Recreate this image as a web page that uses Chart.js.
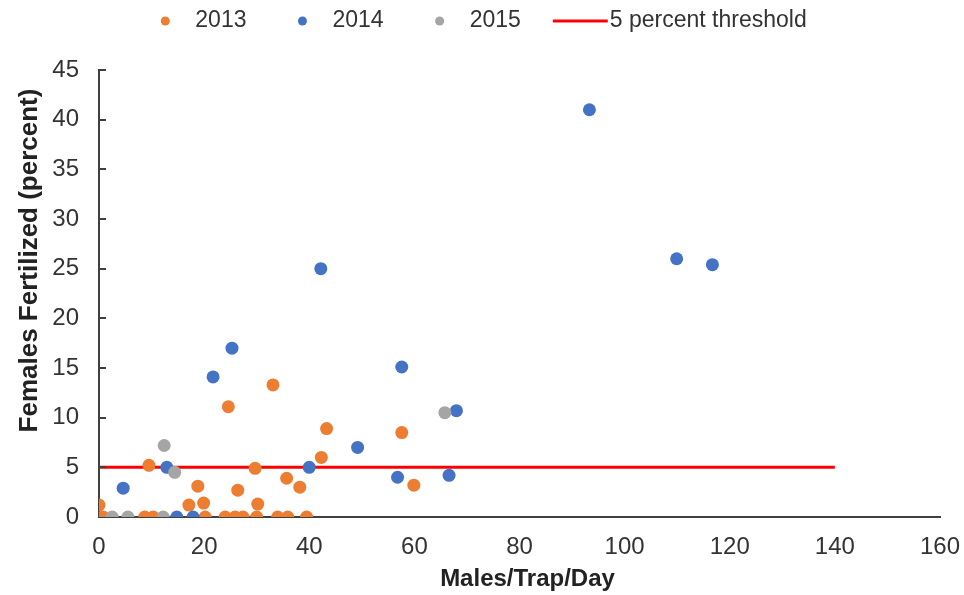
<!DOCTYPE html>
<html>
<head>
<meta charset="utf-8">
<script src="https://cdn.jsdelivr.net/npm/chart.js@4"></script>
<style>
  html, body { margin: 0; padding: 0; background: #ffffff; }
  #wrap { width: 964px; height: 595px; position: relative; }
</style>
</head>
<body>
<div id="wrap"><canvas id="c" width="964" height="595"></canvas></div>
<script>
// ---- data ----
const seriesNames = ['2013', '2014', '2015'];
const x2013 = [33.1, 24.6, 43.3, 57.6, 42.3, 9.5, 29.7, 35.7, 38.2, 59.9, 18.8, 26.4, 0, 17.1, 19.9, 30.2,
               0.8, 8.7, 10.3, 20.2, 24.0, 25.9, 27.4, 30.0, 34.0, 35.9, 39.5];
const y2013 = [13.3, 11.1, 8.9, 8.5, 6.0, 5.2, 4.9, 3.9, 3.0, 3.2, 3.1, 2.7, 1.2, 1.2, 1.4, 1.3,
               0, 0, 0, 0, 0, 0, 0, 0, 0, 0, 0];
const x2014 = [93.3, 109.9, 116.7, 42.2, 25.3, 21.7, 57.6, 68.0, 49.2, 40.0, 56.8, 66.6, 4.6, 12.9, 14.8, 17.9];
const y2014 = [41.0, 26.0, 25.4, 25.0, 17.0, 14.1, 15.1, 10.7, 7.0, 5.0, 4.0, 4.2, 2.9, 5.0, 0, 0];
const x2015 = [65.8, 12.4, 14.4, 2.5, 5.5, 12.2];
const y2015 = [10.5, 7.2, 4.5, 0, 0, 0];
const thresholdLabel = '5 percent threshold';
const thresholdX = [0, 140];
const thresholdY = [5, 5];
const xTicks = [0, 20, 40, 60, 80, 100, 120, 140, 160];
const yTicks = [0, 5, 10, 15, 20, 25, 30, 35, 40, 45];
const xTitle = 'Males/Trap/Day';
const yTitle = 'Females Fertilized (percent)';

// ---- styles ----
const colors = ['#ED7D31', '#4472C4', '#A5A5A5'];
const lineColor = '#FF0000';
const FONT = "'Liberation Sans', Arial, sans-serif";
const textColor = '#333333';
const titleColor = '#222222';
const axisColor = '#404040';

function pts(xs, ys) { return xs.map((x, i) => ({ x: x, y: ys[i] })); }

const seriesX = [x2013, x2014, x2015];
const seriesY = [y2013, y2014, y2015];

const datasets = seriesNames.map((name, i) => ({
  type: 'scatter',
  label: name,
  data: pts(seriesX[i], seriesY[i]),
  backgroundColor: colors[i],
  borderColor: colors[i],
  pointRadius: 6.5,
  pointHoverRadius: 6.5,
  borderWidth: 0,
  order: 3 - i
}));
datasets.push({
  type: 'line',
  label: thresholdLabel,
  data: pts(thresholdX, thresholdY),
  borderColor: lineColor,
  backgroundColor: lineColor,
  borderWidth: 3,
  pointRadius: 0,
  fill: false,
  order: 10
});

// custom legend drawn at top (matching the original layout)
const legendPlugin = {
  id: 'customLegend',
  afterDraw(chart) {
    const ctx = chart.ctx;
    ctx.save();
    ctx.font = '23px ' + FONT;
    ctx.textBaseline = 'middle';
    ctx.textAlign = 'left';
    const y = 21;
    const dotToText = 30, textToNext = 56, textToLine = 32, lineLen = 55, lineToText = 2;
    const items = chart.data.datasets.map(d => ({ label: d.label, type: d.type, color: d.borderColor }));
    let total = 0;
    items.forEach((it, i) => {
      const w = ctx.measureText(it.label).width;
      if (it.type === 'line') total += lineLen + lineToText + w;
      else total += dotToText + w;
      if (i < items.length - 1) total += (items[i + 1].type === 'line' ? textToLine : textToNext);
    });
    let x = 486 - total / 2;
    items.forEach((it, i) => {
      const w = ctx.measureText(it.label).width;
      if (it.type === 'line') {
        ctx.strokeStyle = it.color;
        ctx.lineWidth = 3;
        ctx.beginPath();
        ctx.moveTo(x, y);
        ctx.lineTo(x + lineLen, y);
        ctx.stroke();
        ctx.fillStyle = textColor;
        ctx.fillText(it.label, x + lineLen + lineToText, y);
        x += lineLen + lineToText + w;
      } else {
        ctx.fillStyle = it.color;
        ctx.beginPath();
        ctx.arc(x, y, 4.5, 0, Math.PI * 2);
        ctx.fill();
        ctx.fillStyle = textColor;
        ctx.fillText(it.label, x + dotToText, y);
        x += dotToText + w;
      }
      if (i < items.length - 1) x += (items[i + 1].type === 'line' ? textToLine : textToNext);
    });
    ctx.restore();
  }
};

// inward tick marks on the y axis and axis titles
const axisExtras = {
  id: 'axisExtras',
  afterDatasetsDraw(chart) {
    const ys = chart.scales.y, xs = chart.scales.x;
    const ctx = chart.ctx;
    ctx.save();
    ctx.strokeStyle = axisColor;
    ctx.lineWidth = 2;
    ys.ticks.forEach(t => {
      if (t.value === 0) return;
      const py = Math.round(ys.getPixelForValue(t.value));
      ctx.beginPath();
      ctx.moveTo(xs.left, py);
      ctx.lineTo(xs.left + 7, py);
      ctx.stroke();
    });
    ctx.restore();
  },
  afterDraw(chart) {
    const ctx = chart.ctx;
    const area = chart.chartArea;
    ctx.save();
    ctx.fillStyle = titleColor;
    ctx.textAlign = 'center';
    ctx.textBaseline = 'middle';
    ctx.font = 'bold 24px ' + FONT;
    ctx.fillText(xTitle, (area.left + area.right) / 2 + 8, 579);
    ctx.translate(30, (area.top + area.bottom) / 2 - 33);
    ctx.rotate(-Math.PI / 2);
    ctx.font = 'bold 26px ' + FONT;
    ctx.fillText(yTitle, 0, 0);
    ctx.restore();
  }
};

new Chart(document.getElementById('c'), {
  data: { datasets: datasets },
  options: {
    responsive: false,
    animation: false,
    layout: { padding: { top: 70, right: 24, bottom: 0, left: 0 } },
    plugins: {
      legend: { display: false },
      tooltip: { enabled: false },
      title: { display: false }
    },
    scales: {
      x: {
        type: 'linear',
        min: xTicks[0],
        max: xTicks[xTicks.length - 1],
        afterBuildTicks: s => { s.ticks = xTicks.map(v => ({ value: v })); },
        afterFit: s => { s.height = 78; s.paddingRight = 0; s.paddingLeft = 0; },
        grid: { display: false, drawTicks: false },
        border: { display: true, color: axisColor, width: 2 },
        ticks: { font: { family: FONT, size: 24 }, color: textColor, padding: 16, maxRotation: 0 },
        title: { display: false, text: xTitle }
      },
      y: {
        type: 'linear',
        min: yTicks[0],
        max: yTicks[yTicks.length - 1],
        afterBuildTicks: s => { s.ticks = yTicks.map(v => ({ value: v })); },
        afterFit: s => { s.width = 99; s.paddingTop = 0; s.paddingBottom = 0; },
        grid: { display: false, drawTicks: false },
        border: { display: true, color: axisColor, width: 2 },
        ticks: { font: { family: FONT, size: 24 }, color: textColor, padding: 20 },
        title: { display: false, text: yTitle }
      }
    }
  },
  plugins: [legendPlugin, axisExtras]
});
</script>
</body>
</html>
